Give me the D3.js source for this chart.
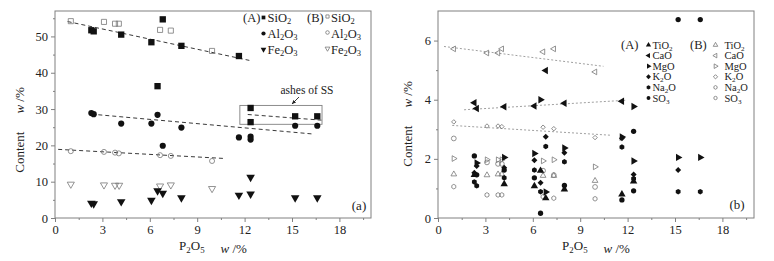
<!DOCTYPE html>
<html>
<head>
<meta charset="utf-8">
<script src="https://cdn.jsdelivr.net/npm/d3@7"></script>
<style>
body { margin: 0; background: #fff; }
svg { display: block; }
svg text { font-family: "Liberation Serif", Tinos, "Times New Roman", Times, serif; }
</style>
</head>
<body>
<div id="chart"></div>
<script>
// ---- panel (a): main oxides, w/% vs P2O5 w/%
var siO2A = [[2.3, 51.7], [2.45, 51.4], [4.19, 50.5], [6.1, 48.4], [6.49, 36.3], [6.82, 54.7], [8.0, 47.4], [11.64, 44.6], [12.38, 30.3], [12.38, 26.4], [15.2, 28.0], [16.6, 28.0]];
var al2O3A = [[2.3, 28.9], [2.45, 28.6], [4.19, 26.0], [6.1, 26.0], [6.49, 28.4], [6.82, 19.9], [8.0, 24.9], [11.64, 22.2], [12.38, 22.4], [12.38, 21.6], [15.2, 25.4], [16.6, 25.4]];
var fe2O3A = [[2.3, 4.1], [2.45, 3.9], [4.19, 4.5], [6.1, 4.9], [6.49, 7.5], [6.82, 6.8], [8.0, 5.6], [11.64, 6.3], [12.38, 6.6], [12.38, 11.2], [15.2, 5.6], [16.6, 5.6]];
var siO2B = [[1.0, 54.2], [3.1, 54.0], [3.8, 53.5], [4.04, 53.5], [6.65, 51.8], [7.33, 51.6], [9.94, 46.0]];
var al2O3B = [[1.0, 18.4], [3.1, 18.2], [3.8, 18.0], [4.04, 17.8], [6.65, 17.3], [7.33, 17.1], [9.94, 15.7]];
var fe2O3B = [[1.0, 9.3], [3.1, 9.1], [3.8, 9.0], [4.06, 9.0], [6.65, 8.8], [7.33, 9.1], [9.94, 8.1]];

var trendSiO2 = [[0.8, 54.1], [12.3, 43.4]];
var trendAl2O3A = [[2.3, 28.6], [16.4, 23.1]];
var trendAl2O3B = [[0.2, 18.9], [10.7, 16.4]];
var trendAshes = [[12.2, 28.5], [17.0, 26.9]];
var ashesBox = [[11.7, 31.0], [16.9, 25.8]];

// ---- panel (b): minor oxides
var tiO2A = [[2.3, 1.46], [4.19, 1.15], [6.1, 1.08], [6.49, 1.6], [6.82, 0.67], [8.0, 0.97], [11.64, 0.8], [12.38, 1.24]];
var caOA = [[2.3, 3.9], [2.45, 3.7], [4.19, 3.76], [6.1, 3.79], [6.82, 4.99], [8.0, 3.88], [11.64, 3.95]];
var mgOA = [[2.45, 1.86], [4.19, 2.05], [6.1, 2.18], [6.49, 4.0], [6.82, 0.88], [8.0, 2.37], [11.64, 2.74], [12.38, 3.77], [12.38, 1.93], [15.2, 2.05], [16.6, 2.05]];
var k2OA = [[2.3, 1.53], [2.45, 1.76], [4.19, 1.7], [6.1, 1.95], [6.49, 1.19], [6.82, 2.75], [8.0, 2.21], [11.64, 2.7], [12.38, 1.47], [15.2, 1.62]];
var na2OA = [[2.3, 1.22], [2.45, 1.09], [4.19, 1.36], [6.1, 1.62], [6.49, 0.89], [6.82, 2.42], [8.0, 1.9], [11.64, 2.4], [12.38, 1.33], [15.2, 0.89], [16.6, 0.89]];
var sO3A = [[2.3, 2.1], [2.45, 1.46], [4.19, 1.62], [6.1, 1.36], [6.49, 0.16], [8.0, 1.1], [11.64, 0.61], [12.38, 2.93], [12.38, 0.92], [15.2, 6.71], [16.6, 6.71]];

var tiO2B = [[1.0, 1.48], [3.1, 1.45], [3.8, 1.48], [4.04, 1.48], [6.65, 1.43], [7.33, 1.43], [9.94, 1.26]];
var caOB = [[1.0, 5.72], [3.1, 5.58], [3.8, 5.58], [4.04, 5.72], [6.65, 5.62], [7.33, 5.72], [9.94, 4.94]];
var mgOB = [[1.0, 2.01], [3.1, 1.97], [3.8, 1.97], [4.04, 1.97], [6.65, 1.93], [7.33, 1.97], [9.94, 1.73]];
var k2OB = [[1.0, 3.25], [3.1, 3.11], [3.8, 3.11], [4.04, 3.09], [6.65, 3.07], [7.33, 3.02], [9.94, 2.72]];
var na2OB = [[1.0, 1.06], [3.1, 0.78], [3.8, 0.78], [4.04, 0.78], [6.65, 0.72], [7.33, 0.67], [9.94, 0.65]];
var sO3B = [[1.0, 2.69], [3.1, 1.88], [3.8, 1.83], [4.04, 1.83], [6.65, 1.6], [7.33, 1.45], [9.94, 1.05]];

var trendCaOB = [[0.38, 5.80], [10.47, 5.13]];
var trendCaOA = [[1.65, 3.66], [11.85, 3.98]];
var trendK2OB = [[0.9, 3.13], [10.9, 2.8]];

var xTicks = [0, 3, 6, 9, 12, 15, 18];
var yTicksA = [0, 10, 20, 30, 40, 50];
var yTicksB = [0, 2, 4, 6];

var W = 774, H = 261;
var svg = d3.select('#chart').append('svg').attr('width', W).attr('height', H);

var INK = '#111', OPEN = '#777', FRAME = '#808080';

// hexagon, used for Na2O
var symbolHex = {
    draw: function(ctx, size) {
        var r = Math.sqrt(size / (1.5 * Math.sqrt(3)));
        for (var i = 0; i < 6; i++) {
            var a = Math.PI / 3 * i + Math.PI / 6;
            if (i === 0) ctx.moveTo(r * Math.cos(a), r * Math.sin(a));
            else ctx.lineTo(r * Math.cos(a), r * Math.sin(a));
        }
        ctx.closePath();
    }
};

// marker styles: type, rotation
var M = {
    sq: [d3.symbolSquare, 0],
    ci: [d3.symbolCircle, 0],
    up: [d3.symbolTriangle, 0],
    dn: [d3.symbolTriangle, 180],
    lt: [d3.symbolTriangle, -90],
    rt: [d3.symbolTriangle, 90],
    di: [d3.symbolSquare, 45],
    hx: [symbolHex, 0]
};

function marks(g, sx, sy, pts, kind, size, filled) {
    var m = M[kind];
    g.append('g').selectAll('path')
        .data(pts)
        .enter()
        .append('path')
        .attr('d', d3.symbol().type(m[0]).size(size))
        .attr('transform', function(d) {
            return 'translate(' + sx(d[0]) + ',' + sy(d[1]) + ') rotate(' + m[1] + ')';
        })
        .attr('fill', filled ? INK : 'none')
        .attr('stroke', filled ? 'none' : OPEN)
        .attr('stroke-width', 0.8);
}

function legendMark(g, px, py, kind, size, filled) {
    var m = M[kind];
    g.append('path')
        .attr('d', d3.symbol().type(m[0]).size(size))
        .attr('transform', 'translate(' + px + ',' + py + ') rotate(' + m[1] + ')')
        .attr('fill', filled ? INK : 'none')
        .attr('stroke', filled ? 'none' : OPEN)
        .attr('stroke-width', 0.8);
}

// text where the character after "_" is a subscript
function rich(g, px, py, str, fs) {
    var t = g.append('text').attr('x', px).attr('y', py)
        .attr('font-size', fs).attr('fill', '#222');
    var drop = Math.round(fs * 0.2 * 10) / 10;
    var low = false;
    var buf = '';
    for (var i = 0; i < str.length; i++) {
        if (str[i] === '_') {
            if (buf) t.append('tspan').text(buf);
            buf = '';
            t.append('tspan').attr('dy', drop).attr('font-size', fs * 0.68).text(str[i + 1]);
            i++;
            low = true;
        } else {
            buf += str[i];
            if (low) {
                t.append('tspan').attr('dy', -drop).text(buf);
                buf = '';
                low = false;
            }
        }
    }
    if (buf) t.append('tspan').text(buf);
    return t;
}

function trend(g, sx, sy, pts, dash, color, w) {
    g.append('path')
        .datum(pts)
        .attr('d', d3.line().x(function(d) { return sx(d[0]); }).y(function(d) { return sy(d[1]); }))
        .attr('fill', 'none')
        .attr('stroke', color)
        .attr('stroke-width', w)
        .attr('stroke-dasharray', dash);
}

function panel(left, right, ymax, yTicks, yMinor, ylabX, ylabY) {
    var top = 11, bottom = 218;
    var x = d3.scaleLinear().domain([0, 20]).range([left, right]);
    var y = d3.scaleLinear().domain([0, ymax]).range([bottom, top]);
    var g = svg.append('g');

    var xMinor = d3.range(1.5, 20, 3);

    function styleAxis(a) {
        a.select('.domain').remove();
        a.selectAll('.tick line').attr('stroke', FRAME);
        a.selectAll('.tick text').attr('fill', '#222')
            .attr('font-size', 12.5).attr('font-family', null);
    }

    g.append('g').attr('transform', 'translate(0,' + bottom + ')')
        .call(d3.axisBottom(x).tickValues(xTicks).tickSize(4).tickPadding(3).tickFormat(d3.format('d')))
        .call(styleAxis);
    g.append('g').attr('transform', 'translate(0,' + bottom + ')')
        .call(d3.axisBottom(x).tickValues(xMinor).tickSize(2).tickFormat(''))
        .call(styleAxis);
    g.append('g').attr('transform', 'translate(' + left + ',0)')
        .call(d3.axisLeft(y).tickValues(yTicks).tickSize(4).tickPadding(3).tickFormat(d3.format('d')))
        .call(styleAxis);
    g.append('g').attr('transform', 'translate(' + left + ',0)')
        .call(d3.axisLeft(y).tickValues(yMinor).tickSize(2).tickFormat(''))
        .call(styleAxis);

    g.append('rect')
        .attr('x', left).attr('y', top)
        .attr('width', right - left).attr('height', bottom - top)
        .attr('fill', 'none').attr('stroke', FRAME).attr('stroke-width', 1);

    // axis titles
    var cx = (left + right) / 2;
    var xt = rich(g, cx, 250, 'P_2O_5', 13).attr('text-anchor', 'middle');
    xt.append('tspan').attr('dx', 16).attr('font-style', 'italic').text('w');
    xt.append('tspan').text(' /%');

    var yt = g.append('text')
        .attr('transform', 'translate(' + ylabX + ',' + ylabY + ') rotate(-90)')
        .attr('text-anchor', 'middle').attr('font-size', 13).attr('fill', '#222');
    yt.append('tspan').text('Content');
    yt.append('tspan').attr('dx', 18).attr('font-style', 'italic').text('w');
    yt.append('tspan').text(' /%');

    return { g: g, x: x, y: y };
}

// ================= panel (a)
var pa = panel(55, 371, 57, yTicksA, [5, 15, 25, 35, 45, 55], 24, 130);
var ga = pa.g;

trend(ga, pa.x, pa.y, trendSiO2, '4,3', '#222', 0.9);
trend(ga, pa.x, pa.y, trendAl2O3A, '4,3', '#222', 0.9);
trend(ga, pa.x, pa.y, trendAl2O3B, '4,3', '#222', 0.9);
trend(ga, pa.x, pa.y, trendAshes, '4,3', '#222', 0.9);

ga.append('rect')
    .attr('x', pa.x(ashesBox[0][0])).attr('y', pa.y(ashesBox[0][1]))
    .attr('width', pa.x(ashesBox[1][0]) - pa.x(ashesBox[0][0]))
    .attr('height', pa.y(ashesBox[1][1]) - pa.y(ashesBox[0][1]))
    .attr('fill', 'none').attr('stroke', FRAME).attr('stroke-width', 0.9);

marks(ga, pa.x, pa.y, siO2B, 'sq', 26, false);
marks(ga, pa.x, pa.y, al2O3B, 'ci', 20, false);
marks(ga, pa.x, pa.y, fe2O3B, 'dn', 22, false);
marks(ga, pa.x, pa.y, siO2A, 'sq', 40, true);
marks(ga, pa.x, pa.y, al2O3A, 'ci', 30, true);
marks(ga, pa.x, pa.y, fe2O3A, 'dn', 32, true);

// annotation
ga.append('text').attr('x', 307).attr('y', 94).attr('text-anchor', 'middle')
    .attr('font-size', 11.5).attr('fill', '#222').text('ashes of SS');
svg.append('defs').append('marker')
    .attr('id', 'arr').attr('viewBox', '0 0 10 10').attr('refX', 9).attr('refY', 5)
    .attr('markerWidth', 5).attr('markerHeight', 5).attr('orient', 'auto')
    .append('path').attr('d', 'M0,1L10,5L0,9z').attr('fill', '#222');
ga.append('line').attr('x1', 299).attr('y1', 97).attr('x2', 292).attr('y2', 104)
    .attr('stroke', '#222').attr('stroke-width', 0.9).attr('marker-end', 'url(#arr)');

ga.append('text').attr('x', 359).attr('y', 210).attr('text-anchor', 'middle')
    .attr('font-size', 13).attr('fill', '#222').text('(a)');

// legend (a)
var legA = ['SiO_2', 'Al_2O_3', 'Fe_2O_3'];
var legAKind = ['sq', 'ci', 'dn'];
ga.append('text').attr('x', 243).attr('y', 21.5).attr('font-size', 12.5).attr('fill', '#222').text('(A)');
ga.append('text').attr('x', 307).attr('y', 21.5).attr('font-size', 12.5).attr('fill', '#222').text('(B)');
legA.forEach(function(s, i) {
    var yy = 17.5 + i * 16;
    legendMark(ga, 263.5, yy, legAKind[i], 14, true);
    rich(ga, 267.5, yy + 4, s, 12.5);
    legendMark(ga, 327.5, yy - 1, legAKind[i], 10, false);
    rich(ga, 331, yy + 4, s, 12.5);
});

// ================= panel (b)
var pb = panel(438, 754, 7, yTicksB, [1, 3, 5], 412, 124);
var gb = pb.g;

trend(gb, pb.x, pb.y, trendCaOB, '2,2', '#888', 0.8);
trend(gb, pb.x, pb.y, trendCaOA, '2,2', '#888', 0.8);
trend(gb, pb.x, pb.y, trendK2OB, '2,2', '#888', 0.8);

marks(gb, pb.x, pb.y, tiO2B, 'up', 14, false);
marks(gb, pb.x, pb.y, caOB, 'lt', 14, false);
marks(gb, pb.x, pb.y, mgOB, 'rt', 14, false);
marks(gb, pb.x, pb.y, k2OB, 'di', 10, false);
marks(gb, pb.x, pb.y, na2OB, 'hx', 14, false);
marks(gb, pb.x, pb.y, sO3B, 'ci', 18, false);

marks(gb, pb.x, pb.y, tiO2A, 'up', 24, true);
marks(gb, pb.x, pb.y, caOA, 'lt', 24, true);
marks(gb, pb.x, pb.y, mgOA, 'rt', 24, true);
marks(gb, pb.x, pb.y, k2OA, 'di', 18, true);
marks(gb, pb.x, pb.y, na2OA, 'hx', 20, true);
marks(gb, pb.x, pb.y, sO3A, 'ci', 22, true);

gb.append('text').attr('x', 737).attr('y', 209).attr('text-anchor', 'middle')
    .attr('font-size', 13).attr('fill', '#222').text('(b)');

var legB = ['TiO_2', 'CaO', 'MgO', 'K_2O', 'Na_2O', 'SO_3'];
var legBKind = ['up', 'lt', 'rt', 'di', 'hx', 'ci'];
gb.append('text').attr('x', 621).attr('y', 49).attr('font-size', 12.5).attr('fill', '#222').text('(A)');
gb.append('text').attr('x', 690).attr('y', 49).attr('font-size', 12.5).attr('fill', '#222').text('(B)');
legB.forEach(function(s, i) {
    var yy = 45 + i * 10.6;
    legendMark(gb, 648.5, yy, legBKind[i], 12, true);
    rich(gb, 652.5, yy + 3.5, s, 10.5);
    legendMark(gb, 715.5, yy, legBKind[i], 9, false);
    rich(gb, 724.5, yy + 3.5, s, 10.5);
});
</script>
</body>
</html>
